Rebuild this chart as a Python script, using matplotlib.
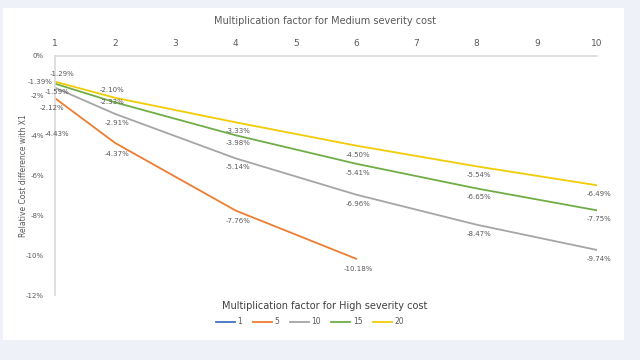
import matplotlib.pyplot as plt
from matplotlib.patches import Rectangle
from matplotlib.ticker import FuncFormatter

# Multiplication factor for Medium severity cost
medium_factor = [1, 2, 4, 6, 8, 10]

# Relative cost difference (%) per High severity factor
high_1 = [-4.43]
high_5 = [-2.12, -4.37, -7.76, -10.18]
high_10 = [-1.59, -2.91, -5.14, -6.96, -8.47, -9.74]
high_15 = [-1.39, -2.33, -3.98, -5.41, -6.65, -7.75]
high_20 = [-1.29, -2.10, -3.33, -4.50, -5.54, -6.49]

series_names = ["1", "5", "10", "15", "20"]
series_values = [high_1, high_5, high_10, high_15, high_20]
colors = ["#4472C4", "#ED7D31", "#A5A5A5", "#70AD47", "#F2CB05"]

# label offsets in pixels (dx, dy) relative to each point
offsets = [
    [(2, 10)],
    [(-3, -10), (2, -11), (2, -10), (2, -10)],
    [(2, -4), (2, -9), (2, -9), (2, -9), (2, -9), (2, -9)],
    [(-15, 2), (-3, 0), (2, -8), (2, -9), (2, -9), (2, -9)],
    [(7, 8), (-3, 8), (2, -9), (2, -9), (2, -9), (2, -9)],
]

# Creating the figure
fig = plt.figure(figsize=(6.4, 3.6), dpi=100)
fig.patch.set_facecolor("#EEF1F7")
fig.patches.append(Rectangle((3 / 640, 1 - 340 / 360), 621 / 640, 332 / 360,
                             transform=fig.transFigure, facecolor="white",
                             edgecolor="none", zorder=-5))

ax = fig.add_axes([55 / 640, 1 - 295 / 360, 542 / 640, 239 / 360])
ax.set_facecolor("none")

for name, vals, col, offs in zip(series_names, series_values, colors, offsets):
    xs = medium_factor[:len(vals)]
    ax.plot(xs, vals, color=col, lw=1.3, label=name)
    for x, v, (dx, dy) in zip(xs, vals, offs):
        ax.annotate("%.2f%%" % v, (x, v), xytext=(dx * 0.72, dy * 0.72),
                    textcoords="offset points", ha="center", va="center",
                    fontsize=5, color="#595959")

# Customizing axis
ax.set_xlim(1, 10)
ax.set_ylim(-12, 0)
ax.xaxis.tick_top()
ax.set_xticks(range(1, 11))
ax.set_yticks(range(-12, 1, 2))
ax.yaxis.set_major_formatter(FuncFormatter(lambda v, p: "%d%%" % v))
ax.tick_params(axis="x", length=0, labelsize=6.5, labelcolor="#595959", pad=6)
ax.tick_params(axis="y", length=0, labelsize=5, labelcolor="#595959", pad=8)
for s in ["right", "bottom"]:
    ax.spines[s].set_visible(False)
for s in ["left", "top"]:
    ax.spines[s].set_color("#D9D9D9")
    ax.spines[s].set_linewidth(1.2)

ax.set_ylabel("Relative Cost difference with X1", fontsize=5.5, color="#595959")
ax.yaxis.set_label_coords(-0.05, 0.5)

fig.text(325 / 640, 1 - 21 / 360, "Multiplication factor for Medium severity cost",
         ha="center", va="center", fontsize=7, color="#595959")
fig.text(325 / 640, 1 - 306 / 360, "Multiplication factor for High severity cost",
         ha="center", va="center", fontsize=7, color="#404040")

ax.legend(loc="center", bbox_to_anchor=(310 / 640, 1 - 322 / 360),
          bbox_transform=fig.transFigure, ncol=5, frameon=False, fontsize=5.5,
          handlelength=2.5, handletextpad=0.3, columnspacing=1.4,
          labelcolor="#595959")

# Saving the chart
plt.savefig("out.png", dpi=100, facecolor=fig.get_facecolor())
plt.close()
